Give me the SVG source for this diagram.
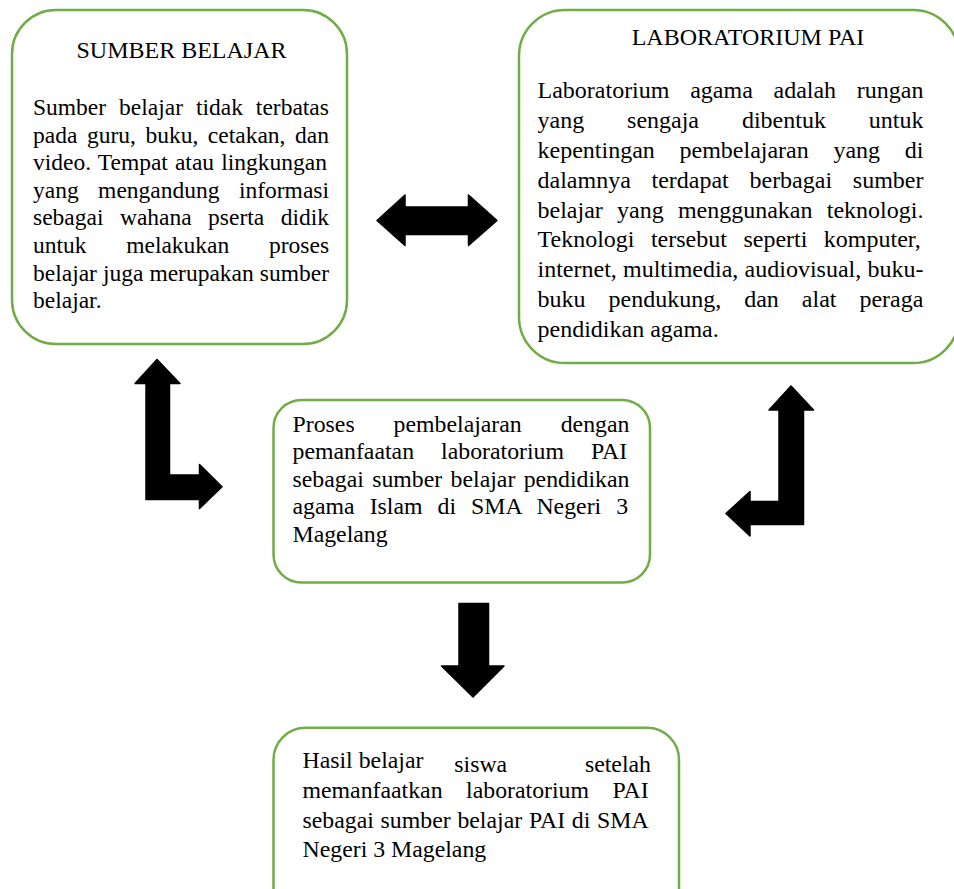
<svg xmlns="http://www.w3.org/2000/svg" width="954" height="889" viewBox="0 0 954 889">
<style>
.box{fill:#ffffff;stroke:#70AD47;stroke-width:2.5}
.t{font-family:"Liberation Serif","Times New Roman",serif;fill:#000000}
.b1{font-size:23.5px}
.b24{font-size:24px}
.b238{font-size:23.8px}
.arr{fill:#000000;stroke:#000000;stroke-width:1.5;stroke-linejoin:round}
</style>
<rect width="954" height="889" fill="#ffffff"/>
<g id="connectors">
<polygon class="arr" points="377,220.5 405,195 405,207 468.5,207 468.5,195 497,220.5 468.5,245.5 468.5,234.5 405,234.5 405,245.5"/>
<polygon class="arr" points="157,359.5 180,383.5 169.5,383.5 169.5,475 199.5,475 199.5,464.5 222,486.7 199.5,508.5 199.5,499.5 146,499.5 146,383.5 135,383.5"/>
<polygon class="arr" points="791,386 813.5,410 803.5,410 803.5,524.5 750,524.5 750,536 726,513.5 750,491.5 750,501.5 779,501.5 779,410 769,410"/>
<polygon class="arr" points="459,603.5 488.5,603.5 488.5,666 504,666 473,697 441.5,666 459,666"/>
</g>
<g id="sumber-belajar">
<rect class="box" x="12" y="10" width="335" height="334" rx="44"/>
<text class="t b24" x="181.5" y="58.3" text-anchor="middle">SUMBER BELAJAR</text>
<text class="t b1" x="33" y="115" word-spacing="7.07">Sumber belajar tidak terbatas</text>
<text class="t b1" x="33" y="142.6" word-spacing="3.68">pada guru, buku, cetakan, dan</text>
<text class="t b1" x="33" y="170.2" word-spacing="1.2">video. Tempat atau lingkungan</text>
<text class="t b1" x="33" y="197.8" word-spacing="13.55">yang mengandung informasi</text>
<text class="t b1" x="33" y="225.4" word-spacing="10.57">sebagai wahana pserta didik</text>
<text class="t b1" x="33" y="253" word-spacing="33.8">untuk melakukan proses</text>
<text class="t b1" x="33" y="280.6" word-spacing="0.13">belajar juga merupakan sumber</text>
<text class="t b1" x="33" y="308.2">belajar.</text>
</g>
<g id="laboratorium-pai">
<rect class="box" x="519" y="10" width="440" height="353" rx="46"/>
<text class="t b24" x="748" y="45" text-anchor="middle">LABORATORIUM PAI</text>
<text class="t b24" x="537.5" y="98.3" word-spacing="14.7">Laboratorium agama adalah rungan</text>
<text class="t b24" x="537.5" y="128.1" word-spacing="36.9">yang sengaja dibentuk untuk</text>
<text class="t b24" x="537.5" y="157.9" word-spacing="18.7">kepentingan pembelajaran yang di</text>
<text class="t b24" x="537.5" y="187.7" word-spacing="14.7">dalamnya terdapat berbagai sumber</text>
<text class="t b24" x="537.5" y="217.5" word-spacing="8.23">belajar yang menggunakan teknologi.</text>
<text class="t b24" x="537.5" y="247.3" word-spacing="10.47">Teknologi tersebut seperti komputer,</text>
<text class="t b24" x="537.5" y="277.1" word-spacing="0.23">internet, multimedia, audiovisual, buku-</text>
<text class="t b24" x="537.5" y="306.9" word-spacing="17">buku pendukung, dan alat peraga</text>
<text class="t b24" x="537.5" y="336.7">pendidikan agama.</text>
</g>
<g id="proses">
<rect class="box" x="273.5" y="400" width="376.5" height="182.5" rx="28"/>
<text class="t b238" x="292.5" y="431.7" word-spacing="33">Proses pembelajaran dengan</text>
<text class="t b238" x="292.5" y="459.2" word-spacing="21.1">pemanfaatan laboratorium PAI</text>
<text class="t b238" x="292.5" y="486.7" word-spacing="2.4">sebagai sumber belajar pendidikan</text>
<text class="t b238" x="292.5" y="514.2" word-spacing="9.1">agama Islam di SMA Negeri 3</text>
<text class="t b238" x="292.5" y="541.7">Magelang</text>
</g>
<g id="hasil-belajar">
<rect class="box" x="273.5" y="727.7" width="405.5" height="200" rx="32"/>
<text class="t b238" x="302.5" y="768.3">Hasil belajar</text>
<text class="t b238" x="454.3" y="771.7">siswa</text>
<text class="t b238" x="651" y="771.7" text-anchor="end">setelah</text>
<text class="t b238" x="302.5" y="798.3" word-spacing="17.6">memanfaatkan laboratorium PAI</text>
<text class="t b238" x="302.5" y="827.5" word-spacing="0.8">sebagai sumber belajar PAI di SMA</text>
<text class="t b238" x="302.5" y="856.7">Negeri 3 Magelang</text>
</g>
</svg>
